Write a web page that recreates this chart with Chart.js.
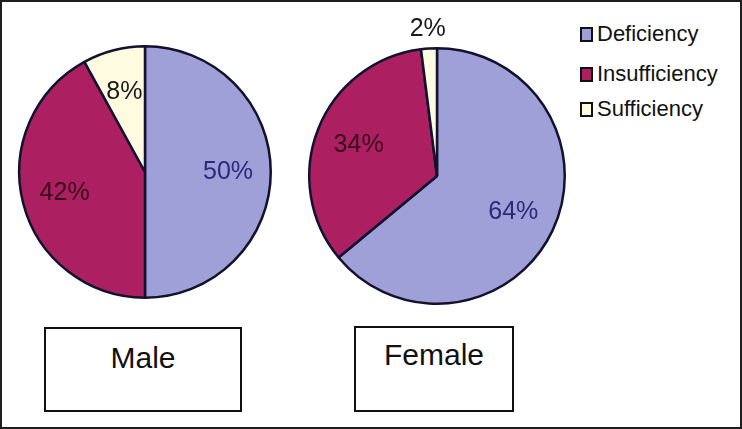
<!DOCTYPE html>
<html>
<head>
<meta charset="utf-8">
<script src="https://cdn.jsdelivr.net/npm/chart.js@4"></script>
<style>
  body { margin: 0; background: #fff; font-family: "Liberation Sans", Arial, sans-serif; }
  #frame { position: relative; width: 742px; height: 429px; box-sizing: border-box; border: 2px solid #1e1e1e; overflow: hidden; }
  canvas { position: absolute; }
  .legend-item { position: absolute; left: 578px; font-size: 22px; color: #111; line-height: 24px; }
  .legend-item span.box { display: inline-block; width: 9px; height: 11px; border: 2px solid #111; margin-right: 4px; vertical-align: -1px; }
  .name-box { position: absolute; border: 2px solid #111; box-sizing: border-box; text-align: center; font-size: 30px; color: #111; background: #fff; }
</style>
</head>
<body>
<div id="frame">
  <canvas id="male" width="290" height="320" style="left:-2px;top:-2px"></canvas>
  <canvas id="female" width="290" height="320" style="left:288px;top:-2px"></canvas>
  <div id="legend"></div>
  <div id="names"></div>
</div>
<script>
const categories = ["Deficiency", "Insufficiency", "Sufficiency"]
const maleValues = [50, 42, 8]
const femaleValues = [64, 34, 2]
const groups = ["Male", "Female"]

const sliceColors = ["#a0a0d8", "#ac1f60", "#fffbe0"]
const labelColors = ["#2a2a7c", "#3a0c1f", "#1a1a1a"]

// percent labels placed along each slice's middle angle
const percentLabels = {
    id: "percentLabels",
    afterDatasetsDraw(chart) {
        const ctx = chart.ctx
        const meta = chart.getDatasetMeta(0)
        const values = chart.data.datasets[0].data
        meta.data.forEach((arc, i) => {
            const {x, y, startAngle, endAngle, outerRadius} = arc.getProps(["x", "y", "startAngle", "endAngle", "outerRadius"], true)
            const mid = (startAngle + endAngle) / 2
            const f = values[i] < 5 ? 1.15 : 0.66
            ctx.save()
            ctx.font = "25px 'Liberation Sans', Arial, sans-serif"
            ctx.fillStyle = labelColors[i]
            ctx.textAlign = "center"
            ctx.textBaseline = "middle"
            ctx.fillText(values[i] + "%", x + Math.cos(mid) * outerRadius * f, y + Math.sin(mid) * outerRadius * f)
            ctx.restore()
        })
    }
}

function createPie(id, values, padding) {
    new Chart(document.getElementById(id), {
        type: "pie",
        data: {
            labels: categories,
            datasets: [{
                data: values,
                backgroundColor: sliceColors,
                borderColor: "#121230",
                borderWidth: 2.5,
            }],
        },
        options: {
            responsive: false,
            animation: false,
            layout: { padding: padding },
            plugins: {
                legend: { display: false },
                tooltip: { enabled: false },
            },
        },
        plugins: [percentLabels],
    })
}

createPie("male", maleValues, { left: 18, right: 18, top: 45, bottom: 21 })
createPie("female", femaleValues, { left: 18, right: 14, top: 47, bottom: 15 })

const legend = document.getElementById("legend")
const legendTops = [20, 60, 95]
categories.forEach((c, i) => {
    const item = document.createElement("div")
    item.className = "legend-item"
    item.style.top = legendTops[i] + "px"
    item.innerHTML = `<span class="box" style="background:${sliceColors[i]}"></span>${c}`
    legend.append(item)
})

const names = document.getElementById("names")
const boxes = [
    { left: 42, top: 325, width: 198, height: 85, pad: 12 },
    { left: 352, top: 324, width: 160, height: 86, pad: 10 },
]
groups.forEach((g, i) => {
    const b = document.createElement("div")
    b.className = "name-box"
    Object.assign(b.style, {
        left: boxes[i].left + "px", top: boxes[i].top + "px",
        width: boxes[i].width + "px", height: boxes[i].height + "px",
        paddingTop: boxes[i].pad + "px",
    })
    b.textContent = g
    names.append(b)
})
</script>
</body>
</html>
